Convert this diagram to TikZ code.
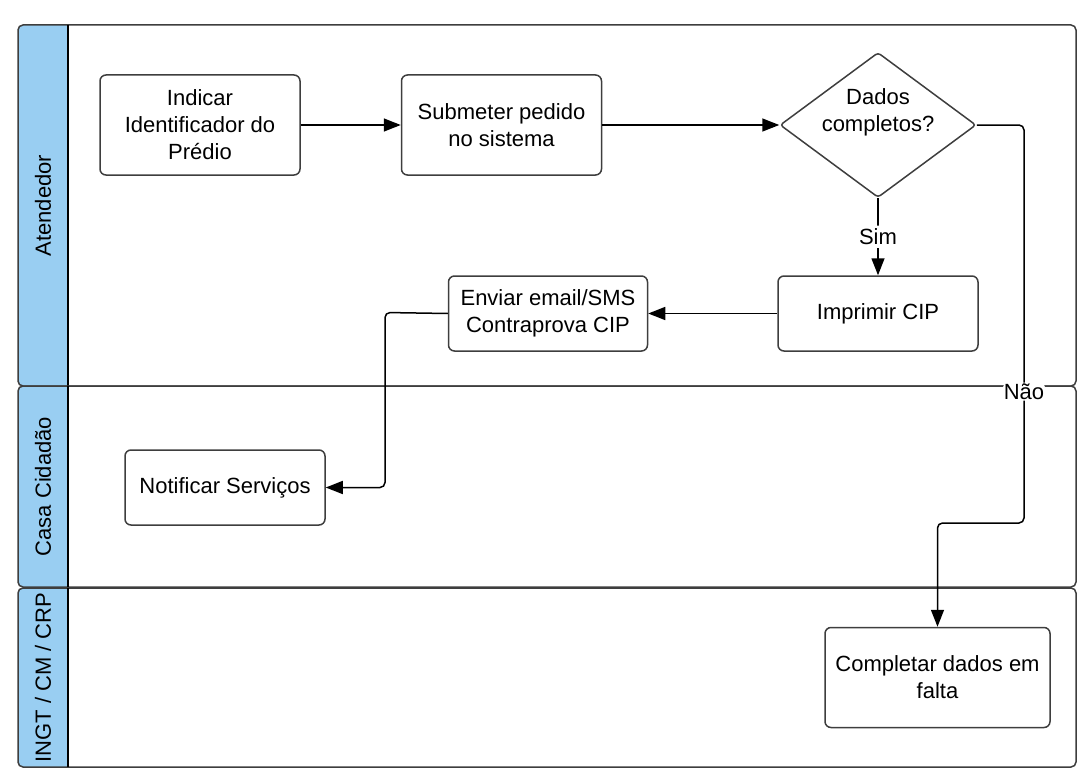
\documentclass[tikz,border=0pt]{standalone}
\usepackage{fontspec}
\setmainfont{Liberation Sans}
\usetikzlibrary{arrows.meta,positioning,shapes.geometric}
\definecolor{headblue}{RGB}{153,206,242}
\definecolor{boxgray}{RGB}{62,62,62}
\tikzset{
  lane/.style={draw=boxgray,line width=1.5pt,rounded corners=5pt},
  lhead/.style={rotate=90,font=\fontsize{22}{27}\selectfont},
  task/.style={rectangle,draw=boxgray,line width=1.5pt,rounded corners=6pt,minimum width=200pt,minimum height=75pt,align=center,inner sep=2pt,font=\fontsize{22}{27}\selectfont},
  decision/.style={diamond,draw=boxgray,line width=1.5pt,rounded corners=3pt,minimum width=196pt,minimum height=145pt,aspect=1.35,inner sep=0pt},
  txt/.style={align=center,inner sep=0pt,font=\fontsize{22}{27}\selectfont},
  flow/.style={-{Triangle[length=17pt,width=13pt]},line width=1.5pt,rounded corners=5pt},
  lbl/.style={fill=white,inner sep=3pt,font=\fontsize{22}{27}\selectfont}
}
\begin{document}
\begin{tikzpicture}[x=1pt,y=-1pt]
\useasboundingbox (0,0) rectangle (1092,784);
% lanes
\foreach \ya/\yb in {25/386, 386/587, 588/767}{
  \begin{scope}
    \clip[rounded corners=5pt] (18,\ya) rectangle (1076,\yb);
    \fill[headblue] (18,\ya) rectangle (68,\yb);
  \end{scope}
  \draw[lane] (18,\ya) rectangle (1076,\yb);
  \draw[line width=1.5pt] (68,\ya) -- (68,\yb);
}
\node[lhead] (hatend) at (43,205.5) {Atendedor};
\node[lhead] (hcasa) at (43,486.5) {Casa Cidadão};
\node[lhead] (hingt) at (43,677.5) {INGT / CM / CRP};
% steps
\node[task, minimum height=100pt] (indicar) at (200,125) {Indicar\\Identificador do\\Prédio};
\node[task, minimum height=100pt, right=100pt of indicar] (submeter) {Submeter pedido\\no sistema};
\node[decision, right=177pt of submeter] (dados) {};
\node[txt] (dadostxt) at ([yshift=13pt]dados.center) {Dados\\completos?};
\node[task, below=77pt of dados] (imprimir) {Imprimir CIP};
\node[task, minimum width=199pt, left=129pt of imprimir] (enviar) {Enviar email/SMS\\Contraprova CIP};
\node[task] (notificar) at (225,487.5) {Notificar Serviços};
\node[task, minimum width=225pt, minimum height=100pt] (completar) at (937.5,677.5) {Completar dados em\\falta};
% flow
\coordinate (j1) at (385,312.5);
\coordinate (j2) at (1024,523);
\draw[flow] (indicar) -- (submeter);
\draw[flow] (submeter) -- (dados);
\draw[flow] (dados) -- node[lbl] (sim) {Sim} (imprimir);
\draw[flow] (imprimir) -- (enviar);
\draw[flow] (enviar.west) -- (j1) |- (notificar.east);
\draw[flow] (dados.east) -| node[lbl, inner sep=1pt, pos=0.835] (nao) {Não} (j2) -| (completar.north);
\end{tikzpicture}
\end{document}
